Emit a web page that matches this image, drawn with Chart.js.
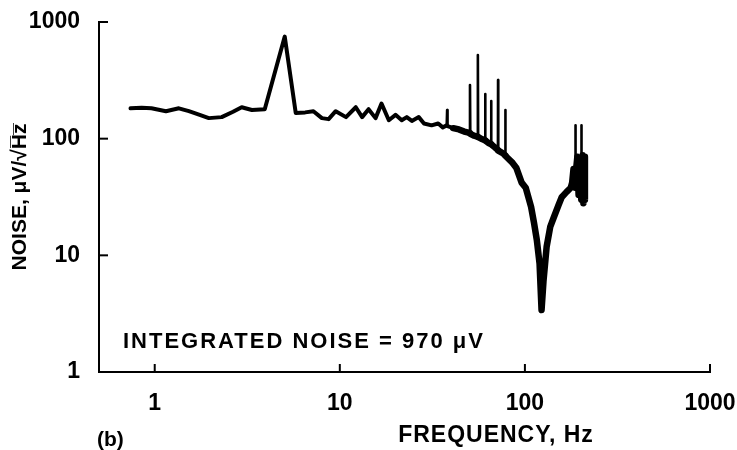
<!DOCTYPE html>
<html>
<head>
<meta charset="utf-8">
<script src="https://cdn.jsdelivr.net/npm/chart.js@4.4.0/dist/chart.umd.min.js"></script>
<style>
    html, body { margin: 0; padding: 0; background: #fff; }
    #wrap { width: 737px; height: 450px; }
</style>
</head>
<body>
<div id="wrap"><canvas id="noiseChart" width="737" height="450"></canvas></div>
<script>
// noise spectrum (Hz, uV/sqrt(Hz))
const freqHz = [
    0.74, 0.85, 0.96, 1.15, 1.35, 1.53, 1.75, 1.96, 2.3, 2.65, 2.95, 3.35, 3.93,
    5.04, 5.78, 6.5, 7.2, 8.0, 8.7, 9.5, 10.8, 12.2, 13.2, 14.3, 15.6, 16.8, 18.4,
    20, 21.6, 23, 24.5, 26.7, 28.5, 31.3, 34, 36, 37.8, 38, 38.2, 41, 44, 47,
    50.3, 50.5, 50.7, 53, 55.5, 55.7, 55.9, 58, 60.9, 61, 61.2, 63.5, 65.6, 65.7, 65.9,
    69, 71.5, 71.6, 71.8, 75, 78.3, 78.4, 78.6, 85, 90, 96, 101, 108, 112, 116, 120,
    123, 126, 131, 137, 143, 152, 158, 168, 177, 180, 183, 187, 187.5, 188, 192, 195,
    198, 201.6, 202, 202.4, 205, 207, 209, 211, 212
];
const noiseUv = [
    182, 184, 182, 172, 182, 172, 160, 150, 153, 170, 186, 176, 179,
    750, 166, 168, 172, 150, 147, 172, 153, 186, 153, 179, 150, 200, 144,
    160, 144, 153, 142, 153, 135, 130, 135, 125, 130, 176, 128, 123, 120, 115,
    112, 288, 110, 106, 104, 522, 103, 100, 97, 241, 96, 92, 90, 210, 89,
    84, 80, 318, 79, 76, 72, 176, 71, 63, 56, 42, 38, 26, 19, 13.5, 8.5,
    3.4, 6, 11.8, 17.5, 21, 27, 31.5, 35, 38, 42, 55, 38, 130, 50, 70, 33,
    65, 30, 130, 45, 72, 28, 70, 30, 60
];
const xTickValues = [1, 10, 100, 1000];
const yTickValues = [1, 10, 100, 1000];

const xTitle = 'FREQUENCY, Hz';
const yTitle = 'NOISE, \u03bcV/\u221aH\u0305z\u0305';
const noteText = 'INTEGRATED NOISE = 970 \u03bcV';
const panelLabel = '(b)';

const FONT = 'Liberation Sans';

const points = freqHz.map((f, i) => ({ x: f, y: noiseUv[i] }));

// thin segments for the narrow line spikes, heavier trace in the noisy band
function segmentWidth(ctx) {
    const a = ctx.p0.parsed, b = ctx.p1.parsed;
    const rel = Math.abs(b.x - a.x) / a.x;
    if (rel < 0.006 && Math.abs(Math.log10(b.y / a.y)) > 0.1) return 2.6;
    return a.x >= 40 ? 6.5 : 4;
}

const decorPlugin = {
    id: 'decor',
    afterDraw(chart) {
        const ctx = chart.ctx;
        const xs = chart.scales.x, ys = chart.scales.y;
        const area = chart.chartArea;
        ctx.save();
        ctx.strokeStyle = '#000';
        ctx.lineWidth = 2;
        // inward tick marks
        xTickValues.forEach(v => {
            const px = xs.getPixelForValue(v);
            ctx.beginPath();
            ctx.moveTo(px, area.bottom);
            ctx.lineTo(px, area.bottom - 8);
            ctx.stroke();
        });
        yTickValues.forEach(v => {
            const py = ys.getPixelForValue(v);
            ctx.beginPath();
            ctx.moveTo(area.left, py);
            ctx.lineTo(area.left + 9, py);
            ctx.stroke();
        });
        ctx.fillStyle = '#000';
        ctx.textBaseline = 'alphabetic';
        ctx.font = 'bold 22px "' + FONT + '"';
        ctx.letterSpacing = '2px';
        ctx.fillText(noteText, area.left + 24, area.bottom - 24);
        ctx.font = 'bold 23px "' + FONT + '"';
        ctx.letterSpacing = '1px';
        ctx.textAlign = 'center';
        ctx.fillText(xTitle, 496, 442);
        ctx.textAlign = 'left';
        ctx.letterSpacing = '0px';
        ctx.font = 'bold 21px "' + FONT + '"';
        ctx.fillText(panelLabel, 97, 446);
        ctx.restore();
    }
};

const ctx = document.getElementById('noiseChart').getContext('2d');
const noiseChart = new Chart(ctx, {
    type: 'line',
    data: {
        datasets: [{
            label: 'Noise',
            data: points,
            borderColor: '#000',
            borderWidth: 4,
            borderJoinStyle: 'round',
            borderCapStyle: 'round',
            pointRadius: 0,
            tension: 0,
            fill: false,
            segment: { borderWidth: segmentWidth }
        }]
    },
    options: {
        responsive: false,
        devicePixelRatio: 1,
        animation: false,
        layout: { padding: { top: 22, right: 27, left: 0, bottom: 0 } },
        plugins: {
            legend: { display: false },
            tooltip: { enabled: false }
        },
        scales: {
            x: {
                type: 'logarithmic',
                min: 0.5,
                max: 1000,
                afterBuildTicks: scale => { scale.ticks = xTickValues.map(v => ({ value: v })); },
                afterFit: scale => {
                    scale.height = 78;
                    scale.paddingLeft = 0;
                    scale.paddingRight = 0;
                },
                grid: { display: false },
                border: { display: true, color: '#000', width: 2 },
                ticks: {
                    color: '#000',
                    padding: 10,
                    maxRotation: 0,
                    font: { family: FONT, size: 23, weight: 'bold' },
                    callback: v => String(v)
                },
                title: { display: false }
            },
            y: {
                type: 'logarithmic',
                min: 1,
                max: 1000,
                afterBuildTicks: scale => { scale.ticks = yTickValues.map(v => ({ value: v })); },
                afterFit: scale => {
                    scale.width = 99;
                    scale.paddingTop = 0;
                    scale.paddingBottom = 0;
                },
                grid: { display: false },
                border: { display: true, color: '#000', width: 2 },
                ticks: {
                    color: '#000',
                    padding: 11,
                    font: { family: FONT, size: 23, weight: 'bold' },
                    callback: v => String(v)
                },
                title: {
                    display: true,
                    text: yTitle,
                    color: '#000',
                    padding: { top: 8, bottom: 0 },
                    font: { family: FONT, size: 21, weight: 'bold' }
                }
            }
        }
    },
    plugins: [decorPlugin]
});
</script>
</body>
</html>
